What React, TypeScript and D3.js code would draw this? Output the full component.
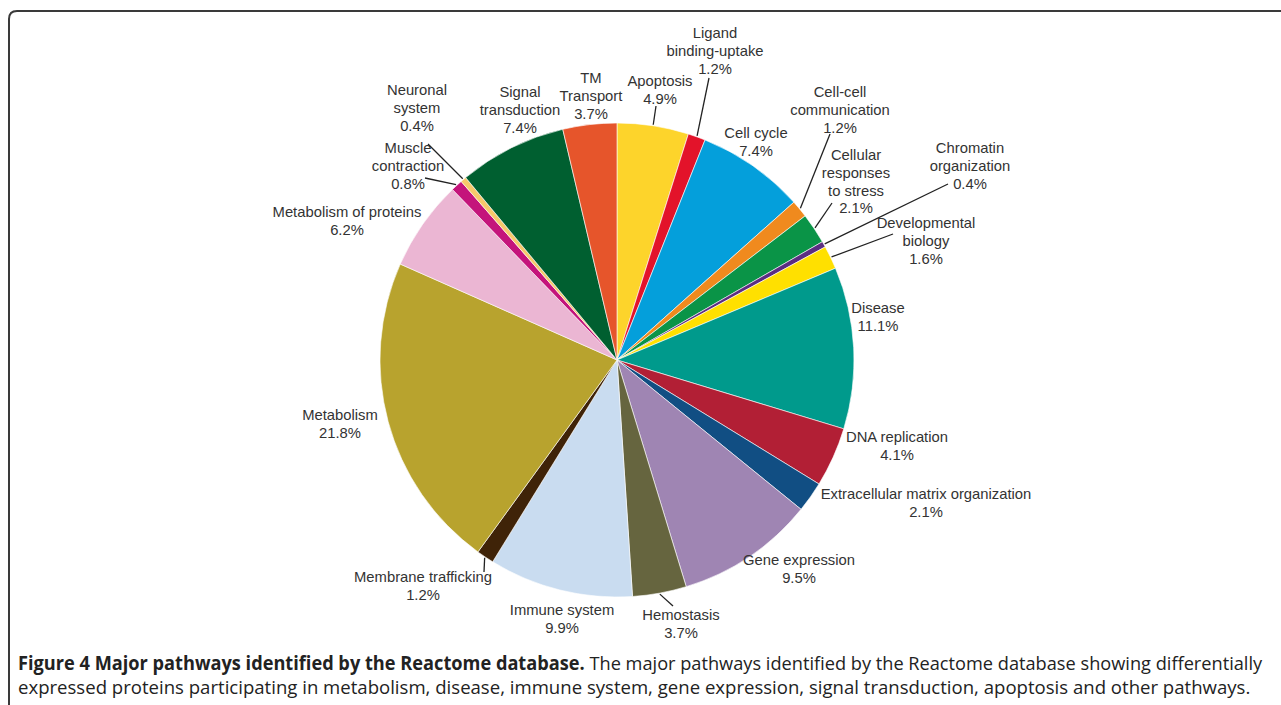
import React, { useLayoutEffect, useRef, useState } from "react";
import * as d3 from "d3";

const categories = [
  "Apoptosis", "Ligand binding-uptake", "Cell cycle", "Cell-cell communication",
  "Cellular responses to stress", "Chromatin organization", "Developmental biology",
  "Disease", "DNA replication", "Extracellular matrix organization", "Gene expression",
  "Hemostasis", "Immune system", "Membrane trafficking", "Metabolism",
  "Metabolism of proteins", "Muscle contraction", "Neuronal system",
  "Signal transduction", "TM Transport",
];
const values = [4.9, 1.2, 7.4, 1.2, 2.1, 0.4, 1.6, 11.1, 4.1, 2.1, 9.5, 3.7, 9.9, 1.2, 21.8, 6.2, 0.8, 0.4, 7.4, 3.7];
const colors = [
  "#fdd42b", "#e3132a", "#049fdb", "#f08a1e", "#0a9447", "#5b2d82", "#ffe000",
  "#009a8c", "#b21f35", "#114e83", "#9f85b3", "#66653f", "#c9dcf0", "#3f2308",
  "#b8a32e", "#ebb6d3", "#c4147b", "#f7c96b", "#005f30", "#e6552b",
];
// label text lines (excluding the percentage line)
const labelLines: string[][] = [
  ["Apoptosis"], ["Ligand", "binding-uptake"], ["Cell cycle"], ["Cell-cell", "communication"],
  ["Cellular", "responses", "to stress"], ["Chromatin", "organization"], ["Developmental", "biology"],
  ["Disease"], ["DNA replication"], ["Extracellular matrix organization"], ["Gene expression"],
  ["Hemostasis"], ["Immune system"], ["Membrane trafficking"], ["Metabolism"],
  ["Metabolism of proteins"], ["Muscle", "contraction"], ["Neuronal", "system"],
  ["Signal", "transduction"], ["TM", "Transport"],
];

const captionBold = "Figure 4 Major pathways identified by the Reactome database.";
const captionLine1 = " The major pathways identified by the Reactome database showing differentially";
const captionLine2 = "expressed proteins participating in metabolism, disease, immune system, gene expression, signal transduction, apoptosis and other pathways.";

// layout: label center x, first baseline y, optional leader end point
const labelLayout: { x: number; y: number; lead?: [number, number] }[] = [
  { x: 660, y: 86, lead: [656, 106] },
  { x: 715, y: 38, lead: [709, 78] },
  { x: 756, y: 138 },
  { x: 840, y: 97, lead: [830, 134] },
  { x: 856, y: 160, lead: [832, 203] },
  { x: 970, y: 153, lead: [948, 184] },
  { x: 926, y: 228, lead: [893, 234] },
  { x: 878, y: 313 },
  { x: 897, y: 442 },
  { x: 926, y: 499 },
  { x: 799, y: 565 },
  { x: 681, y: 620, lead: [673, 606] },
  { x: 562, y: 615 },
  { x: 423, y: 582, lead: [484, 572] },
  { x: 340, y: 420 },
  { x: 347, y: 217 },
  { x: 408, y: 153, lead: [425, 178] },
  { x: 417, y: 95, lead: [428, 144] },
  { x: 520, y: 97 },
  { x: 591, y: 83 },
];

const W = 1281, H = 705;
const cx = 617, cy = 360, R = 237;
const lineH = 17.8;
const cap1Width = 1244, cap2Width = 1232;

export default function App() {
  const data = categories.map((c, i) => ({ name: c, value: values[i], i }));
  const pie = d3.pie<any>().sort(null).value((d) => d.value);
  const arcs = pie(data);
  const arc = d3.arc<any>().innerRadius(0).outerRadius(R);

  const t1 = useRef<SVGTextElement>(null);
  const t2 = useRef<SVGTextElement>(null);
  const [s1, setS1] = useState(0.75);
  const [s2, setS2] = useState(0.75);
  useLayoutEffect(() => {
    if (t1.current) setS1(cap1Width / t1.current.getComputedTextLength());
    if (t2.current) setS2(cap2Width / t2.current.getComputedTextLength());
  }, []);

  return (
    <svg width={W} height={H} style={{ position: "absolute", left: 0, top: 0, background: "#fff" }}>
      <path d={`M 9 ${H + 5} L 9 19 Q 9 11 17 11 L ${W + 5} 11`} fill="none" stroke="#3a3a3a" strokeWidth={2} />
      <g transform={`translate(${cx},${cy})`}>
        {arcs.map((a) => (
          <path key={a.data.name} d={arc(a) as string} fill={colors[a.data.i]} stroke="#fff" strokeWidth={0.6} />
        ))}
      </g>
      <g fontFamily="'Liberation Sans', Arial, sans-serif" fontSize={14.8} fill="#333">
        {arcs.map((a) => {
          const i = a.data.i;
          const L = labelLayout[i];
          const mid = (a.startAngle + a.endAngle) / 2;
          const px = cx + (R + 1) * Math.sin(mid);
          const py = cy - (R + 1) * Math.cos(mid);
          const lines = [...labelLines[i], `${values[i]}%`];
          return (
            <g key={a.data.name}>
              {L.lead && (
                <line x1={px} y1={py} x2={L.lead[0]} y2={L.lead[1]} stroke="#222" strokeWidth={1.3} />
              )}
              <text textAnchor="middle">
                {lines.map((t, k) => (
                  <tspan key={k} x={L.x} y={L.y + k * lineH}>{t}</tspan>
                ))}
              </text>
            </g>
          );
        })}
      </g>
      <g fontFamily="'Open Sans', sans-serif" fontSize={19} fill="#222">
        <text ref={t1} transform={`translate(18,670) scale(${s1},1)`} style={{ whiteSpace: "pre" }}>
          <tspan fontWeight="bold">{captionBold}</tspan>
          <tspan>{captionLine1}</tspan>
        </text>
        <text ref={t2} transform={`translate(18,694) scale(${s2},1)`}>{captionLine2}</text>
      </g>
    </svg>
  );
}
